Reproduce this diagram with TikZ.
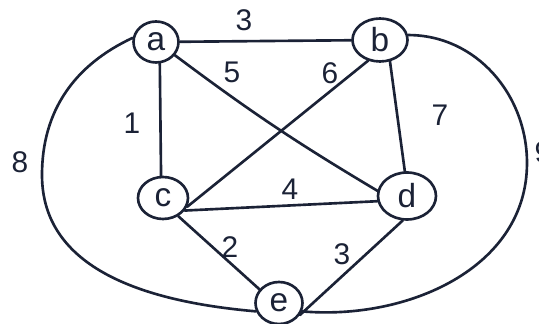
\documentclass[tikz,border=0pt]{standalone}
\usepackage{fontspec}
\setmainfont{Liberation Sans}
\usetikzlibrary{shapes.geometric}
\definecolor{ink}{HTML}{1B2236}
\begin{document}
\begin{tikzpicture}[x=0.02cm,y=-0.02cm,
  vtx/.style={ellipse,draw=ink,line width=1.5pt,inner sep=0pt,text=ink,font=\fontsize{19}{20}\selectfont},
  lbl/.style={text=ink,font=\fontsize{17}{18}\selectfont,inner sep=0pt},
  edge/.style={draw=ink,line width=1.5pt,line cap=round}]
\useasboundingbox (0,0) rectangle (539,324);
\clip (0,0) rectangle (539,324);
\node[vtx,minimum width=0.9cm,minimum height=0.82cm] (a) at (156,42) {a};
\node[vtx,minimum width=1.1cm,minimum height=0.86cm] (b) at (380,40) {b};
\node[vtx,minimum width=1.0cm,minimum height=0.84cm] (c) at (163,198) {c};
\node[vtx,minimum width=1.16cm,minimum height=0.94cm] (d) at (407,196) {d};
\node[vtx,minimum width=0.94cm,minimum height=0.84cm] (e) at (279,303) {e};
\coordinate (L) at (42,175);
\coordinate (R) at (527,163);
\draw[edge] (a) -- (b);
\draw[edge] (a.-80) -- (c.95);
\draw[edge] (a.-35) to[bend right=3] (d.170);
\draw[edge] (b.240) -- (c.-20);
\draw[edge] (b.-65) -- (d.95);
\draw[edge] (c.-30) -- (d.190);
\draw[edge] (c.-50) -- (e.145);
\draw[edge] (d.-100) -- (e.-30);
\draw[edge] (a.170) to[out=205,in=90] (L) to[out=-90,in=175] (e.200);
\draw[edge] (b.10) to[out=0,in=90] (R) to[out=-90,in=-5] (e.-20);
\node[lbl] (w1) at (244,20) {3};
\node[lbl] (w2) at (232,72) {5};
\node[lbl] (w3) at (330,73) {6};
\node[lbl] (w4) at (440,115) {7};
\node[lbl] (w5) at (132,123) {1};
\node[lbl] (w6) at (20,162) {8};
\node[lbl] (w7) at (290,189) {4};
\node[lbl] (w8) at (230,247) {2};
\node[lbl] (w9) at (342,254) {3};
\node[lbl] (w10) at (543,152) {9};
\end{tikzpicture}
\end{document}
